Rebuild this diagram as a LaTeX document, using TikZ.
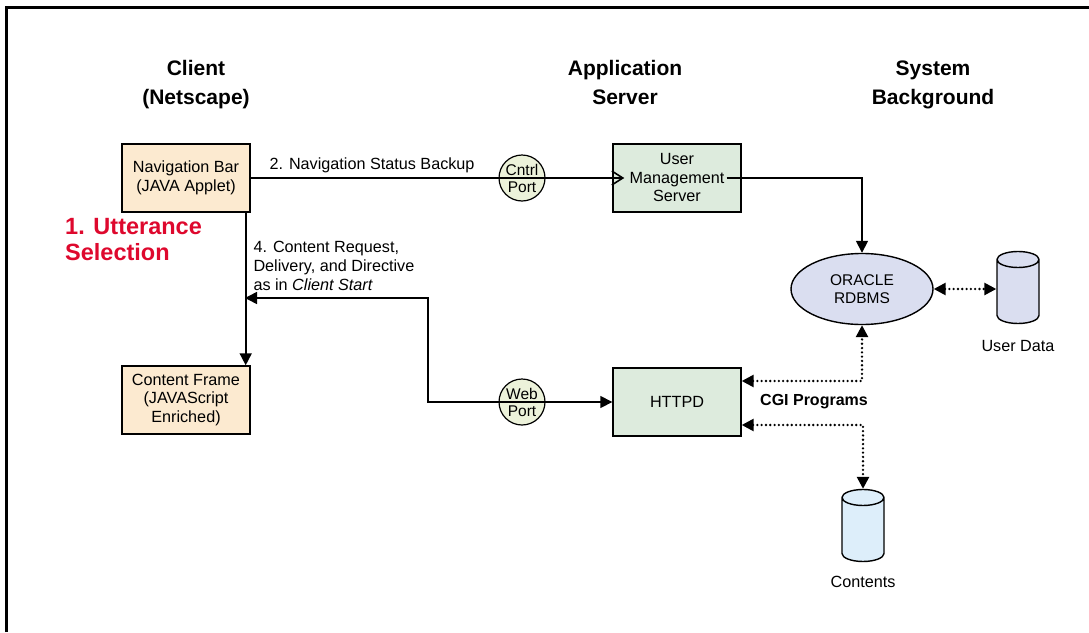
\documentclass[tikz,border=0pt]{standalone}
\usepackage{fontspec}
\setmainfont{Liberation Sans}
\usetikzlibrary{positioning,shapes.geometric,arrows.meta}

\definecolor{clientfill}{RGB}{252,234,208}
\definecolor{serverfill}{RGB}{221,235,221}
\definecolor{portfill}{RGB}{236,242,218}
\definecolor{dbfill}{RGB}{218,222,240}
\definecolor{contfill}{RGB}{221,238,250}
\definecolor{selred}{RGB}{222,8,45}

\begin{document}
\begin{tikzpicture}[x=1pt, y=-1pt, >={Triangle[length=12pt,width=12pt]},
    font=\fontsize{16.2}{18.5}\selectfont]
  \tikzstyle{box}=[draw, line width=1.4pt, minimum width=128pt, minimum height=68pt, inner sep=2pt, align=center]
  \tikzstyle{cbox}=[box, fill=clientfill]
  \tikzstyle{sbox}=[box, fill=serverfill]
  \tikzstyle{port}=[circle, draw, line width=1.2pt, fill=portfill, minimum size=46pt, inner sep=0pt, align=center, font=\fontsize{15.5}{17}\selectfont]
  \tikzstyle{db}=[cylinder, shape border rotate=90, aspect=2.4, draw, line width=1.4pt, minimum height=72pt, minimum width=42pt]
  \tikzstyle{head}=[align=center, font=\fontsize{21}{29}\selectfont\bfseries]
  \tikzstyle{lbl}=[inner sep=0pt, align=left]
  \tikzstyle{flow}=[line width=1.6pt]
  \tikzstyle{dots}=[line width=2.6pt, dash pattern=on 0pt off 4.3pt, line cap=round]

  \useasboundingbox (0,0) rectangle (1089,632);
  \draw[line width=3pt] (6,632) -- (6,7) -- (1089,7);

  % column heads
  \node[head] (hclient) at (196,85) {Client\\(Netscape)};
  \node[head] (happ) at (625,82) {Application\\Server};
  \node[head] (hsys) at (933,85) {System\\Background};

  % client side
  \node[cbox] (navbar) at (186,178) {Navigation Bar\\(JAVA Applet)};
  \node[cbox] (cframe) at (186,400) {Content Frame\\(JAVAScript\\Enriched)};
  \node[lbl, anchor=west, text=selred, font=\fontsize{23.5}{26}\selectfont\bfseries] (select) at (65,240) {1. Utterance\\Selection};

  % application server
  \node[port] (cport) at (522,178) {Cntrl\\Port};
  \node[port] (wport) at (522,402) {Web\\Port};
  \node[sbox] (ums) at (677,178) {User\\Management\\Server};
  \node[sbox] (httpd) at (677,402) {HTTPD};

  % system background
  \node[ellipse, draw, line width=1.4pt, fill=dbfill, minimum width=142pt, minimum height=71pt, inner sep=0pt, align=center, font=\fontsize{15.5}{18}\selectfont] (oracle) at (862,289) {ORACLE\\RDBMS};
  \node[db, fill=dbfill] (udata) at (1018,294) {};
  \node[lbl, below=16pt of udata] (udatalbl) {User Data};
  \node[db, fill=contfill] (contents) at (863,532) {};
  \node[lbl, below=14pt of contents] (contlbl) {Contents};
  \node[lbl, font=\fontsize{16}{18}\selectfont\bfseries] (cgi) at (814,402) {CGI Programs};

  \coordinate (tap) at (245,298);
  \coordinate (elbow) at (428,298);

  \draw[flow, -{Straight Barb[length=11pt,width=14pt]}, shorten >=-12pt] (navbar.east) --
    node[lbl, pos=0, anchor=base west, xshift=18pt, yshift=9pt] (backup) {2. Navigation Status Backup} (ums.west);
  \draw[flow, ->] ([xshift=-15pt]ums.east) -| (oracle.north);
  \draw[flow, ->] ([xshift=-5pt]navbar.south east) --
    node[lbl, pos=0.35, anchor=west, xshift=7pt, font=\fontsize{16.2}{18.8}\selectfont] (request) {4. Content Request,\\Delivery, and Directive\\as in \textit{Client Start}} ([xshift=-5pt]cframe.north east);
  \draw[flow, <->] (tap) -- (elbow) |- (httpd.west);

  \draw[dots, <->] ([yshift=21pt]httpd.east) -| (oracle.south);
  \draw[dots, <->] ([yshift=-23pt]httpd.east) -| (contents.north);
  \draw[dots, <->] (oracle.east) -- (oracle.east -| udata.west);
\end{tikzpicture}
\end{document}
